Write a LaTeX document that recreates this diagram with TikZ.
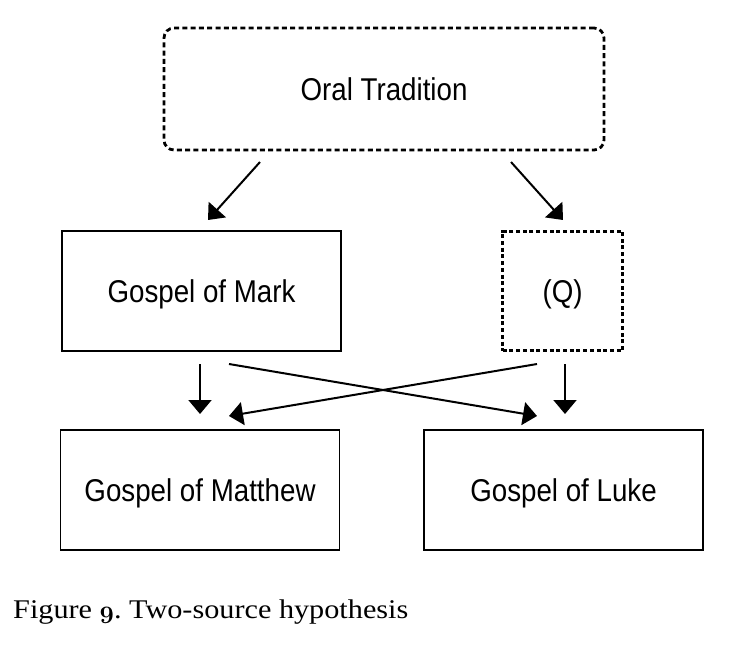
\documentclass[tikz,border=0pt]{standalone}
\usepackage{fontspec}
\newfontfamily\boxfont[FakeStretch=0.88]{Liberation Sans}
\newfontfamily\capfont[FakeStretch=1.12]{Liberation Serif}
\usetikzlibrary{arrows.meta}
\newcommand{\osnine}{{\fontencoding{OML}\fontfamily{cmm}\fontseries{b}\fontshape{it}\selectfont 9}}
\tikzset{
  box/.style={draw, line width=1.8pt, minimum width=279pt, minimum height=120pt,
    font=\boxfont\fontsize{31.5}{36}\selectfont, text height=22.5pt, text depth=0pt, inner sep=0pt},
  dashbox/.style={box, line width=2.8pt, dash pattern=on 5pt off 3.3pt},
  arr/.style={line width=2pt, -{Triangle[width=23pt,length=14pt]}}
}
\begin{document}
\begin{tikzpicture}[x=1pt,y=-1pt]
\useasboundingbox[fill=white] (0,0) rectangle (738,657);
\node[dashbox, rounded corners=10pt, minimum width=440pt, minimum height=122pt] (oral) at (384,89) {Oral Tradition};
\node[box] (mark) at (201.5,291) {Gospel of Mark};
\node[dashbox, dash pattern=on 4pt off 2.7pt, minimum width=120pt, minimum height=119pt] (q) at (562.7,291) {(Q)};
\node[box] (matt) at (200,490) {Gospel of Matthew};
\node[box] (luke) at (563.5,490) {Gospel of Luke};
% connector ends
\coordinate (o1) at (260,162);
\coordinate (m1) at (208,220);
\coordinate (o2) at (511,162);
\coordinate (q1) at (563,220);
\coordinate (ma) at (200,364);
\coordinate (mb) at (229,364);
\coordinate (qa) at (537,364);
\coordinate (qb) at (565,364);
\coordinate (ta) at (200,414);
\coordinate (tb) at (229,416);
\coordinate (la) at (537,416);
\coordinate (lb) at (565,414);
\draw[arr] (o1) -- (m1);
\draw[arr] (o2) -- (q1);
\draw[arr] (ma) -- (ta);
\draw[arr] (mb) -- (la);
\draw[arr] (qa) -- (tb);
\draw[arr] (qb) -- (lb);
\node[anchor=base west, inner sep=0pt, font=\capfont\fontsize{27}{32}\selectfont] (cap) at (13,618) {\frenchspacing Figure \osnine. Two-source hypothesis};
\end{tikzpicture}
\end{document}
